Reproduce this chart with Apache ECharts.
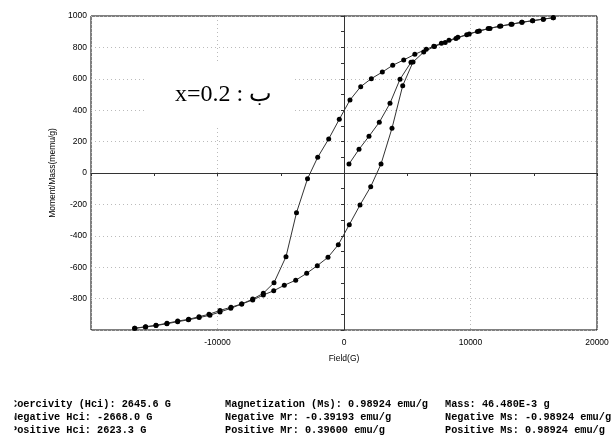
<!DOCTYPE html>
<html>
<head>
<meta charset="utf-8">
<script src="https://cdn.jsdelivr.net/npm/echarts@6/dist/echarts.min.js"></script>
<style>
  html, body { margin: 0; padding: 0; background: #fff; }
  #container { width: 613px; height: 436px; }
</style>
</head>
<body>
<div id="container"></div>
<script>
// 初始磁化曲线
var virginField  = [395, 1186, 1976, 2790, 3636, 4427, 5296];
var virginMoment = [57, 151, 234, 323, 444, 597, 705];

// 退磁分支 (从 +Hmax 到 -Hmax)
var descField  = [16545, 15760, 14920, 14080, 13280, 12400, 11540, 10700, 9900, 9000, 8300, 7700, 7100, 6500, 5600, 4720, 3850, 3030, 2160, 1320, 474, -372, -1209, -2079, -2885, -3755, -4585, -5534, -6379, -7217, -8087, -8933, -9800, -10672, -11462, -12277, -13146, -13992, -14862, -15676, -16545];
var descMoment = [989, 980, 970, 960, 948, 936, 921, 905, 886, 864, 845, 826, 808, 788, 756, 720, 686, 643, 601, 550, 465, 342, 217, 100, -37, -253, -533, -699, -766, -803, -834, -855, -875, -900, -915, -932, -943, -957, -970, -979, -989];

// 回升分支 (从 -Hmax 到 +Hmax)
var ascField  = [-16545, -15700, -14860, -14000, -13150, -12300, -11450, -10600, -9800, -8950, -8087, -7217, -6379, -5557, -4719, -3818, -2949, -2111, -1265, -451, 419, 1265, 2111, 2925, 3794, 4640, 5455, 6300, 7150, 8000, 8850, 9700, 10550, 11400, 12300, 13200, 14050, 14900, 15750, 16545];
var ascMoment = [-989, -981, -972, -960, -947, -935, -921, -906, -885, -862, -834, -809, -777, -750, -715, -683, -639, -590, -537, -457, -329, -204, -87, 57, 285, 556, 707, 770, 806, 832, 857, 880, 902, 920, 935, 948, 960, 970, 980, 989];

// 坐标轴刻度
var xMin = -20000, xMax = 20000, xStep = 10000, xMinorStep = 5000;
var yMin = -1000, yMax = 1000, yStep = 200, yMinorStep = 100;

// 底部统计文本
var statsCol1 = ['Coercivity (Hci): 2645.6 G', 'Negative Hci: -2668.0 G', 'Positive Hci: 2623.3 G'];
var statsCol2 = ['Magnetization (Ms): 0.98924 emu/g', 'Negative Mr: -0.39193 emu/g', 'Positive Mr: 0.39600 emu/g'];
var statsCol3 = ['Mass: 46.480E-3 g', 'Negative Ms: -0.98924 emu/g', 'Positive Ms: 0.98924 emu/g'];

function zip(xs, ys) {
    var out = [];
    for (var i = 0; i < xs.length; i++) out.push([xs[i], ys[i]]);
    return out;
}

function lineSeries(name, data) {
    return {
        name: name,
        type: 'line',
        xAxisIndex: 0,
        yAxisIndex: 0,
        data: data,
        symbol: 'circle',
        symbolSize: 5,
        lineStyle: {color: '#333', width: 1},
        itemStyle: {color: '#000'},
        animation: false,
        z: 5
    };
}

var labelFont = {fontFamily: 'Liberation Sans, Arial, sans-serif', fontSize: 8.5, color: '#000'};
var dotted = {show: true, lineStyle: {color: '#bbb', type: [1, 3], width: 1}};

var graphics = [
    {type: 'rect', shape: {x: 145, y: 62, width: 148, height: 65}, style: {fill: '#fff'}, z: 3},
    {type: 'text', left: 175, top: 83, style: {text: 'x=0.2 : ب', font: '24px "Liberation Serif", "DejaVu Serif", serif', fill: '#000'}, z: 4}
];
var monoFont = 'bold 10.25px "Liberation Mono", "DejaVu Sans Mono", monospace';
var rowsY = [404, 417, 430];
[[statsCol1, 11], [statsCol2, 225], [statsCol3, 445]].forEach(function (col) {
    col[0].forEach(function (t, i) {
        graphics.push({type: 'text', x: col[1], y: rowsY[i], style: {text: t, font: monoFont, fill: '#000', textVerticalAlign: 'middle'}, z: 1});
    });
});
// 原图左侧首字母被截掉
graphics.push({type: 'rect', shape: {x: 0, y: 395, width: 14.5, height: 41}, style: {fill: '#fff'}, z: 2});

var myChart = echarts.init(document.getElementById('container'));
var option = {
    backgroundColor: '#fff',
    animation: false,
    grid: {left: 91, top: 16, right: 16, bottom: 106, show: true, borderColor: '#000', borderWidth: 1, backgroundColor: '#fff'},
    xAxis: [{
        type: 'value', min: xMin, max: xMax, interval: xStep,
        name: 'Field(G)', nameLocation: 'middle', nameGap: 24,
        nameTextStyle: labelFont,
        axisLine: {show: false, onZero: false},
        axisTick: {show: false},
        axisLabel: Object.assign({margin: 8, formatter: function (v) { return v === xMin ? '' : String(v); }}, labelFont),
        splitLine: dotted
    }, {
        type: 'value', min: xMin, max: xMax, interval: xMinorStep,
        axisLine: {show: true, onZero: true, onZeroAxisIndex: 0, lineStyle: {color: '#333', width: 1}},
        axisTick: {show: true, inside: true, length: 3, lineStyle: {color: '#333'}},
        axisLabel: {show: false},
        splitLine: {show: false}
    }],
    yAxis: [{
        type: 'value', min: yMin, max: yMax, interval: yStep,
        name: 'Moment/Mass(memu/g)', nameLocation: 'middle', nameGap: 27,
        nameTextStyle: labelFont,
        axisLine: {show: false, onZero: false},
        axisTick: {show: false},
        axisLabel: Object.assign({margin: 4, formatter: function (v) { return v === yMin ? '' : String(v); }}, labelFont),
        splitLine: dotted
    }, {
        type: 'value', min: yMin, max: yMax, interval: yMinorStep,
        axisLine: {show: true, onZero: true, onZeroAxisIndex: 0, lineStyle: {color: '#333', width: 1}},
        axisTick: {show: true, inside: true, length: 3, lineStyle: {color: '#333'}},
        axisLabel: {show: false},
        splitLine: {show: false}
    }],
    graphic: graphics,
    series: [
        lineSeries('virgin', zip(virginField, virginMoment)),
        lineSeries('descending', zip(descField, descMoment)),
        lineSeries('ascending', zip(ascField, ascMoment))
    ]
};
myChart.setOption(option);
</script>
</body>
</html>
